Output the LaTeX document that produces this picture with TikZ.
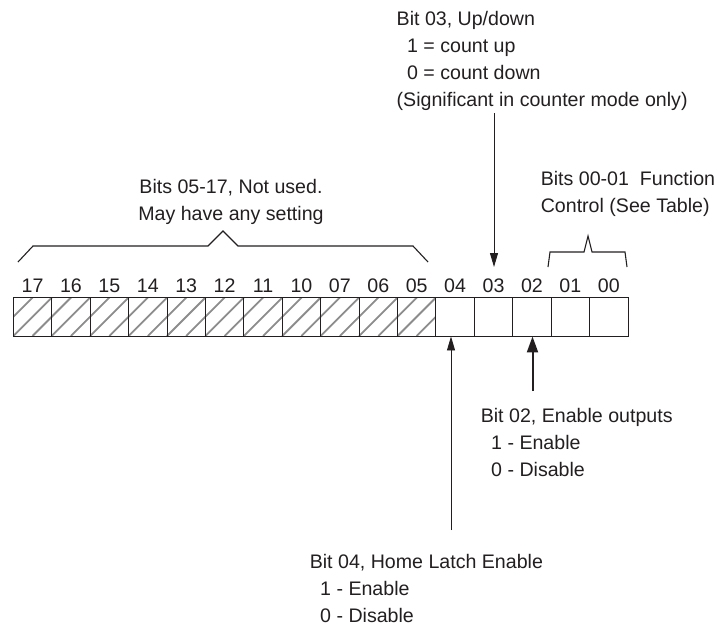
\documentclass[tikz,border=0pt]{standalone}
\usepackage{fontspec}
\setmainfont{Liberation Sans}
\usetikzlibrary{arrows.meta}
\definecolor{ink}{HTML}{231F20}
\definecolor{hatchgray}{HTML}{8C8C8C}
\newcommand{\ind}{\hspace*{10.4pt}}
\tikzset{
    bitbox/.style={draw=ink,line width=0.9pt,minimum width=38.42pt,minimum height=39pt,inner sep=0pt},
    bitnum/.style={text=ink,inner sep=0pt,font=\fontsize{19.6}{27}\selectfont},
    note/.style={text=ink,inner sep=0pt,align=left,anchor=north west,font=\fontsize{19.6}{27}\selectfont},
    thinarrow/.style={draw=ink,line width=0.9pt,-{Triangle[length=14pt,width=8pt]}},
    thickarrow/.style={draw=ink,line width=2pt,-{Triangle[length=16pt,width=11pt]}},
    bracket/.style={draw=ink,line width=1.1pt}
}
\begin{document}
\begin{tikzpicture}[x=1pt,y=-1pt]
        \useasboundingbox (0,0) rectangle (720,629);
        % hatching of the unused bits
        \begin{scope}
            \clip (13.3,297) rectangle (435.9,336);
            \foreach \k in {-2,...,23}
                \draw[hatchgray,line width=1.8pt] ({13.3+19.21*\k},336) -- ++(39,-39);
        \end{scope}
        % the register
        \foreach \n [count=\i from 0] in {17,16,15,14,13,12,11,10,07,06,05,04,03,02,01,00}
            \node (b\n) [bitbox, label={[bitnum,name=l\n,label distance=4pt]above:\n}]
                at ({13.3+38.42*(\i+0.5)},316.5) {};
        % notes
        \node (upnote) [note] at (396.5,11)
            {Bit 03, Up/down\\\ind1 = count up\\\ind0 = count down\\(Significant in counter mode only)};
        \node (unused) [note,align=center,anchor=north] at (231,179)
            {Bits 05-17, Not used.\\May have any setting};
        \node (func) [note] at (540.6,171)
            {Bits 00-01\ \ Function\\Control (See Table)};
        \node (enout) [note] at (480.6,408)
            {Bit 02, Enable outputs\\\ind1 - Enable\\\ind0 - Disable};
        \node (homelatch) [note] at (309.6,554)
            {Bit 04, Home Latch Enable\\\ind1 - Enable\\\ind0 - Disable};
        % brackets
        \draw[bracket] (18,262) -- (33,246) -- (208,246) -- (223,231) -- (238,246) -- (413,246) -- (428,262);
        \draw[bracket] (548,267) -- (550,252) -- (584,252) -- (588,236) -- (592,252) -- (625,252) -- (627,267);
        % pointers
        \coordinate (upstart) at (494,113);
        \coordinate (homestart) at (451,530);
        \coordinate (enstart) at (532.5,391);
        \draw[thinarrow] (upstart) -- (upstart |- 0,267);
        \draw[thinarrow] (homestart) -- (homestart |- b04.south);
        \draw[thickarrow] (enstart) -- (enstart |- b02.south);
    \end{tikzpicture}
\end{document}
